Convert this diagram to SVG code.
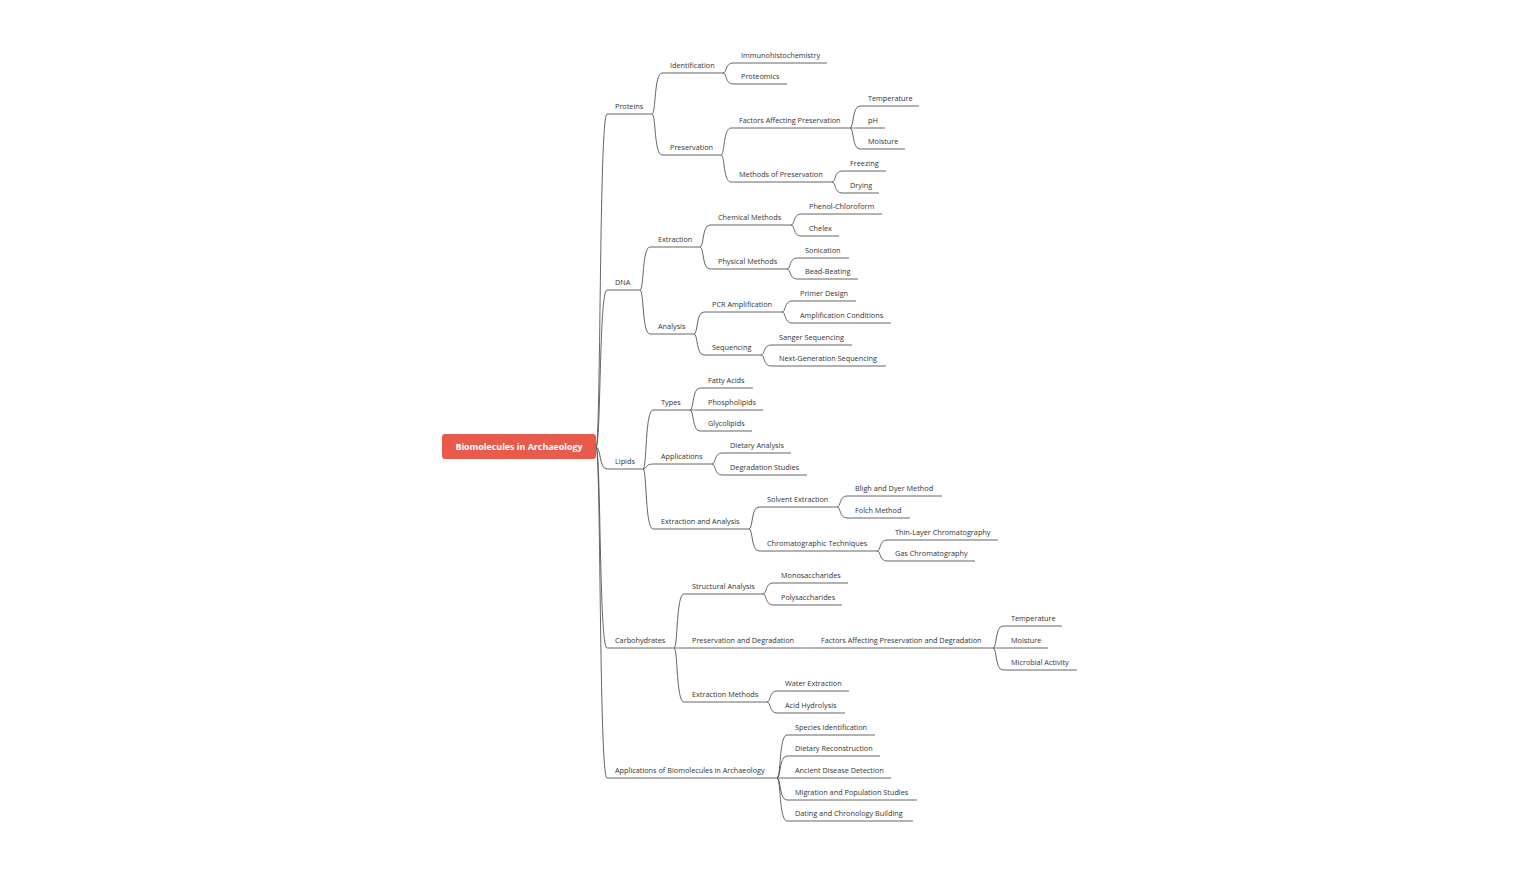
<svg xmlns="http://www.w3.org/2000/svg" width="1516" height="872" viewBox="0 0 1516 872">
<style>
.t{font-family:"Open Sans","Noto Sans","DejaVu Sans",sans-serif;font-size:7.3px;fill:#333333}
.u{stroke:#555555;stroke-width:0.9;fill:none}
.c path{stroke:#555555;stroke-width:0.9;fill:none}
.rt{font-family:"Open Sans","Noto Sans","DejaVu Sans",sans-serif;font-size:8.9px;font-weight:bold;fill:#ffffff}
</style>
<rect width="1516" height="872" fill="#ffffff"/>
<g class="c" id="connectors">
<path d="M596 447 C601 447 599 114 607 114"/>
<path d="M596 447 C601 447 599 290 607 290"/>
<path d="M596 447 C601 447 599 469 607 469"/>
<path d="M596 447 C601 447 599 648 607 648"/>
<path d="M596 447 C601 447 599 778 607 778"/>
<path d="M652 114 C656 114 654 73 662 73"/>
<path d="M652 114 C656 114 654 155 662 155"/>
<path d="M723 73 C727 73 725 63 733 63"/>
<path d="M723 73 C727 73 725 84 733 84"/>
<path d="M721 155 C725 155 723 128 731 128"/>
<path d="M721 155 C725 155 723 182 731 182"/>
<path d="M850 128 C854 128 852 106 860 106"/>
<path d="M850 128 C854 128 852 128 860 128"/>
<path d="M850 128 C854 128 852 149 860 149"/>
<path d="M832 182 C836 182 834 171 842 171"/>
<path d="M832 182 C836 182 834 193 842 193"/>
<path d="M640 290 C644 290 642 247 650 247"/>
<path d="M640 290 C644 290 642 334 650 334"/>
<path d="M700 247 C704 247 702 225 710 225"/>
<path d="M700 247 C704 247 702 269 710 269"/>
<path d="M791 225 C795 225 793 214 801 214"/>
<path d="M791 225 C795 225 793 236 801 236"/>
<path d="M787 269 C791 269 789 258 797 258"/>
<path d="M787 269 C791 269 789 279 797 279"/>
<path d="M694 334 C698 334 696 312 704 312"/>
<path d="M694 334 C698 334 696 355 704 355"/>
<path d="M782 312 C786 312 784 301 792 301"/>
<path d="M782 312 C786 312 784 323 792 323"/>
<path d="M761 355 C765 355 763 345 771 345"/>
<path d="M761 355 C765 355 763 366 771 366"/>
<path d="M643 469 C647 469 645 410 653 410"/>
<path d="M643 469 C647 469 645 464 653 464"/>
<path d="M643 469 C647 469 645 529 653 529"/>
<path d="M690 410 C694 410 692 388 700 388"/>
<path d="M690 410 C694 410 692 410 700 410"/>
<path d="M690 410 C694 410 692 431 700 431"/>
<path d="M712 464 C716 464 714 453 722 453"/>
<path d="M712 464 C716 464 714 475 722 475"/>
<path d="M749 529 C753 529 751 507 759 507"/>
<path d="M749 529 C753 529 751 551 759 551"/>
<path d="M837 507 C841 507 839 496 847 496"/>
<path d="M837 507 C841 507 839 518 847 518"/>
<path d="M877 551 C881 551 879 540 887 540"/>
<path d="M877 551 C881 551 879 561 887 561"/>
<path d="M674 648 C678 648 676 594 684 594"/>
<path d="M674 648 C678 648 676 648 684 648"/>
<path d="M674 648 C678 648 676 702 684 702"/>
<path d="M763 594 C767 594 765 583 773 583"/>
<path d="M763 594 C767 594 765 605 773 605"/>
<path d="M803 648 C807 648 805 648 813 648"/>
<path d="M993 648 C997 648 995 626 1003 626"/>
<path d="M993 648 C997 648 995 648 1003 648"/>
<path d="M993 648 C997 648 995 670 1003 670"/>
<path d="M767 702 C771 702 769 691 777 691"/>
<path d="M767 702 C771 702 769 713 777 713"/>
<path d="M777 778 C781 778 779 735 787 735"/>
<path d="M777 778 C781 778 779 756 787 756"/>
<path d="M777 778 C781 778 779 778 787 778"/>
<path d="M777 778 C781 778 779 800 787 800"/>
<path d="M777 778 C781 778 779 821 787 821"/>
</g>
<g id="root">
<rect x="442" y="434" width="154" height="25" rx="3" fill="#E85B4C"/>
<text class="rt" x="519" y="450.2" text-anchor="middle">Biomolecules in Archaeology</text>
</g>
<g id="n1"><line class="u" x1="607" y1="114" x2="652" y2="114"/><text class="t" x="615" y="108.7">Proteins</text></g>
<g id="n1a"><line class="u" x1="662" y1="73" x2="723" y2="73"/><text class="t" x="670" y="67.7">Identification</text></g>
<g id="n1a1"><line class="u" x1="733" y1="63" x2="827" y2="63"/><text class="t" x="741" y="57.7">Immunohistochemistry</text></g>
<g id="n1a2"><line class="u" x1="733" y1="84" x2="787" y2="84"/><text class="t" x="741" y="78.7">Proteomics</text></g>
<g id="n1b"><line class="u" x1="662" y1="155" x2="721" y2="155"/><text class="t" x="670" y="149.7">Preservation</text></g>
<g id="n1b1"><line class="u" x1="731" y1="128" x2="850" y2="128"/><text class="t" x="739" y="122.7">Factors Affecting Preservation</text></g>
<g id="n1b1a"><line class="u" x1="860" y1="106" x2="919" y2="106"/><text class="t" x="868" y="100.7">Temperature</text></g>
<g id="n1b1b"><line class="u" x1="860" y1="128" x2="885" y2="128"/><text class="t" x="868" y="122.7">pH</text></g>
<g id="n1b1c"><line class="u" x1="860" y1="149" x2="905" y2="149"/><text class="t" x="868" y="143.7">Moisture</text></g>
<g id="n1b2"><line class="u" x1="731" y1="182" x2="832" y2="182"/><text class="t" x="739" y="176.7">Methods of Preservation</text></g>
<g id="n1b2a"><line class="u" x1="842" y1="171" x2="886" y2="171"/><text class="t" x="850" y="165.7">Freezing</text></g>
<g id="n1b2b"><line class="u" x1="842" y1="193" x2="879" y2="193"/><text class="t" x="850" y="187.7">Drying</text></g>
<g id="n2"><line class="u" x1="607" y1="290" x2="640" y2="290"/><text class="t" x="615" y="284.7">DNA</text></g>
<g id="n2a"><line class="u" x1="650" y1="247" x2="700" y2="247"/><text class="t" x="658" y="241.7">Extraction</text></g>
<g id="n2a1"><line class="u" x1="710" y1="225" x2="791" y2="225"/><text class="t" x="718" y="219.7">Chemical Methods</text></g>
<g id="n2a1a"><line class="u" x1="801" y1="214" x2="882" y2="214"/><text class="t" x="809" y="208.7">Phenol-Chloroform</text></g>
<g id="n2a1b"><line class="u" x1="801" y1="236" x2="839" y2="236"/><text class="t" x="809" y="230.7">Chelex</text></g>
<g id="n2a2"><line class="u" x1="710" y1="269" x2="787" y2="269"/><text class="t" x="718" y="263.7">Physical Methods</text></g>
<g id="n2a2a"><line class="u" x1="797" y1="258" x2="849" y2="258"/><text class="t" x="805" y="252.7">Sonication</text></g>
<g id="n2a2b"><line class="u" x1="797" y1="279" x2="858" y2="279"/><text class="t" x="805" y="273.7">Bead-Beating</text></g>
<g id="n2b"><line class="u" x1="650" y1="334" x2="694" y2="334"/><text class="t" x="658" y="328.7">Analysis</text></g>
<g id="n2b1"><line class="u" x1="704" y1="312" x2="782" y2="312"/><text class="t" x="712" y="306.7">PCR Amplification</text></g>
<g id="n2b1a"><line class="u" x1="792" y1="301" x2="856" y2="301"/><text class="t" x="800" y="295.7">Primer Design</text></g>
<g id="n2b1b"><line class="u" x1="792" y1="323" x2="891" y2="323"/><text class="t" x="800" y="317.7">Amplification Conditions</text></g>
<g id="n2b2"><line class="u" x1="704" y1="355" x2="761" y2="355"/><text class="t" x="712" y="349.7">Sequencing</text></g>
<g id="n2b2a"><line class="u" x1="771" y1="345" x2="852" y2="345"/><text class="t" x="779" y="339.7">Sanger Sequencing</text></g>
<g id="n2b2b"><line class="u" x1="771" y1="366" x2="886" y2="366"/><text class="t" x="779" y="360.7">Next-Generation Sequencing</text></g>
<g id="n3"><line class="u" x1="607" y1="469" x2="643" y2="469"/><text class="t" x="615" y="463.7">Lipids</text></g>
<g id="n3a"><line class="u" x1="653" y1="410" x2="690" y2="410"/><text class="t" x="661" y="404.7">Types</text></g>
<g id="n3a1"><line class="u" x1="700" y1="388" x2="753" y2="388"/><text class="t" x="708" y="382.7">Fatty Acids</text></g>
<g id="n3a2"><line class="u" x1="700" y1="410" x2="763" y2="410"/><text class="t" x="708" y="404.7">Phospholipids</text></g>
<g id="n3a3"><line class="u" x1="700" y1="431" x2="752" y2="431"/><text class="t" x="708" y="425.7">Glycolipids</text></g>
<g id="n3b"><line class="u" x1="653" y1="464" x2="712" y2="464"/><text class="t" x="661" y="458.7">Applications</text></g>
<g id="n3b1"><line class="u" x1="722" y1="453" x2="791" y2="453"/><text class="t" x="730" y="447.7">Dietary Analysis</text></g>
<g id="n3b2"><line class="u" x1="722" y1="475" x2="807" y2="475"/><text class="t" x="730" y="469.7">Degradation Studies</text></g>
<g id="n3c"><line class="u" x1="653" y1="529" x2="749" y2="529"/><text class="t" x="661" y="523.7">Extraction and Analysis</text></g>
<g id="n3c1"><line class="u" x1="759" y1="507" x2="837" y2="507"/><text class="t" x="767" y="501.7">Solvent Extraction</text></g>
<g id="n3c1a"><line class="u" x1="847" y1="496" x2="942" y2="496"/><text class="t" x="855" y="490.7">Bligh and Dyer Method</text></g>
<g id="n3c1b"><line class="u" x1="847" y1="518" x2="910" y2="518"/><text class="t" x="855" y="512.7">Folch Method</text></g>
<g id="n3c2"><line class="u" x1="759" y1="551" x2="877" y2="551"/><text class="t" x="767" y="545.7">Chromatographic Techniques</text></g>
<g id="n3c2a"><line class="u" x1="887" y1="540" x2="998" y2="540"/><text class="t" x="895" y="534.7">Thin-Layer Chromatography</text></g>
<g id="n3c2b"><line class="u" x1="887" y1="561" x2="975" y2="561"/><text class="t" x="895" y="555.7">Gas Chromatography</text></g>
<g id="n4"><line class="u" x1="607" y1="648" x2="674" y2="648"/><text class="t" x="615" y="642.7">Carbohydrates</text></g>
<g id="n4a"><line class="u" x1="684" y1="594" x2="763" y2="594"/><text class="t" x="692" y="588.7">Structural Analysis</text></g>
<g id="n4a1"><line class="u" x1="773" y1="583" x2="848" y2="583"/><text class="t" x="781" y="577.7">Monosaccharides</text></g>
<g id="n4a2"><line class="u" x1="773" y1="605" x2="842" y2="605"/><text class="t" x="781" y="599.7">Polysaccharides</text></g>
<g id="n4b"><line class="u" x1="684" y1="648" x2="803" y2="648"/><text class="t" x="692" y="642.7">Preservation and Degradation</text></g>
<g id="n4b1"><line class="u" x1="813" y1="648" x2="993" y2="648"/><text class="t" x="821" y="642.7">Factors Affecting Preservation and Degradation</text></g>
<g id="n4b1a"><line class="u" x1="1003" y1="626" x2="1062" y2="626"/><text class="t" x="1011" y="620.7">Temperature</text></g>
<g id="n4b1b"><line class="u" x1="1003" y1="648" x2="1048" y2="648"/><text class="t" x="1011" y="642.7">Moisture</text></g>
<g id="n4b1c"><line class="u" x1="1003" y1="670" x2="1077" y2="670"/><text class="t" x="1011" y="664.7">Microbial Activity</text></g>
<g id="n4c"><line class="u" x1="684" y1="702" x2="767" y2="702"/><text class="t" x="692" y="696.7">Extraction Methods</text></g>
<g id="n4c1"><line class="u" x1="777" y1="691" x2="849" y2="691"/><text class="t" x="785" y="685.7">Water Extraction</text></g>
<g id="n4c2"><line class="u" x1="777" y1="713" x2="845" y2="713"/><text class="t" x="785" y="707.7">Acid Hydrolysis</text></g>
<g id="n5"><line class="u" x1="607" y1="778" x2="777" y2="778"/><text class="t" x="615" y="772.7">Applications of Biomolecules in Archaeology</text></g>
<g id="n5a"><line class="u" x1="787" y1="735" x2="875" y2="735"/><text class="t" x="795" y="729.7">Species Identification</text></g>
<g id="n5b"><line class="u" x1="787" y1="756" x2="880" y2="756"/><text class="t" x="795" y="750.7">Dietary Reconstruction</text></g>
<g id="n5c"><line class="u" x1="787" y1="778" x2="891" y2="778"/><text class="t" x="795" y="772.7">Ancient Disease Detection</text></g>
<g id="n5d"><line class="u" x1="787" y1="800" x2="917" y2="800"/><text class="t" x="795" y="794.7">Migration and Population Studies</text></g>
<g id="n5e"><line class="u" x1="787" y1="821" x2="913" y2="821"/><text class="t" x="795" y="815.7">Dating and Chronology Building</text></g>
</svg>
